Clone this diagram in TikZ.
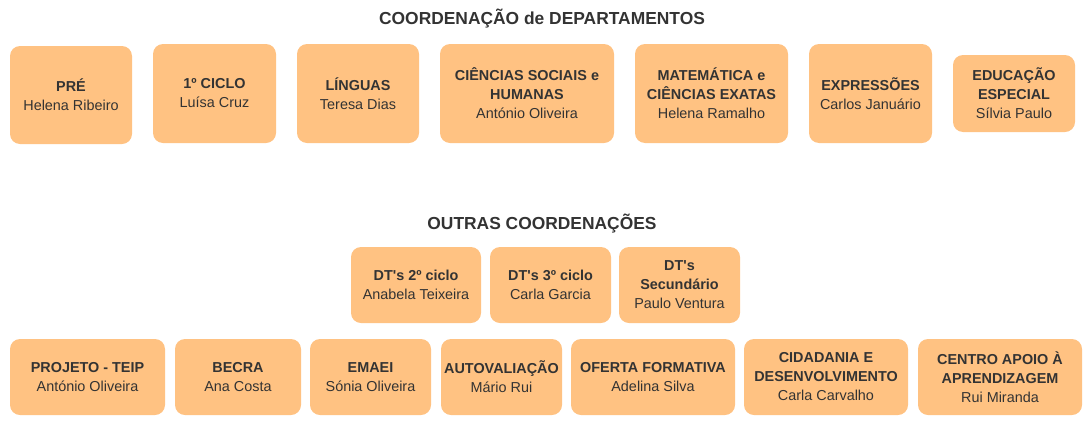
\documentclass[tikz,border=0pt]{standalone}
\usepackage{fontspec}
\setmainfont{Liberation Sans}
\usepackage{xcolor}
\usepackage{tikz}
\usetikzlibrary{positioning}
\definecolor{boxOrange}{HTML}{FFC282}
\definecolor{textGrey}{HTML}{333333}

\begin{document}
\begin{tikzpicture}[
    x=1pt, y=-1pt,
    coord/.style={fill=boxOrange, rounded corners=10pt, inner sep=1pt, align=center, text=textGrey, font=\fontsize{14.4}{19}\selectfont},
    heading/.style={text=textGrey, font=\fontsize{17.4}{21}\selectfont\bfseries},
]
    \useasboundingbox (0,0) rectangle (1091,426);

    % Departamentos
    \node[heading] (titledep) at (542,19) {COORDENAÇÃO de DEPARTAMENTOS};
    \node[coord, minimum width=122pt, minimum height=98pt] (pre) at (71,95) {\textbf{PRÉ}\\Helena Ribeiro};
    \node[coord, minimum width=123pt, minimum height=99pt] (ciclo1) at (214.5,93.5) {\textbf{1º CICLO}\\Luísa Cruz};
    \node[coord, minimum width=122pt, minimum height=99pt] (linguas) at (358,93.5) {\textbf{LÍNGUAS}\\Teresa Dias};
    \node[coord, minimum width=174pt, minimum height=99pt] (csh) at (527,93.5) {\textbf{CIÊNCIAS SOCIAIS e}\\\textbf{HUMANAS}\\António Oliveira};
    \node[coord, minimum width=153pt, minimum height=99pt] (mce) at (711.5,93.5) {\textbf{MATEMÁTICA e}\\\textbf{CIÊNCIAS EXATAS}\\Helena Ramalho};
    \node[coord, minimum width=123pt, minimum height=99pt] (expressoes) at (870.5,93.5) {\textbf{EXPRESSÕES}\\Carlos Januário};
    \node[coord, minimum width=122pt, minimum height=77pt] (edesp) at (1014,93.5) {\textbf{EDUCAÇÃO}\\\textbf{ESPECIAL}\\Sílvia Paulo};

    % Outras coordenacoes
    \node[heading] (titleout) at (542,224) {OUTRAS COORDENAÇÕES};
    \node[coord, minimum width=130pt, minimum height=76pt] (dt2) at (416,285) {\textbf{DT\textquotesingle s 2º ciclo}\\Anabela Teixeira};
    \node[coord, minimum width=121pt, minimum height=76pt] (dt3) at (550.5,285) {\textbf{DT\textquotesingle s 3º ciclo}\\Carla Garcia};
    \node[coord, minimum width=121pt, minimum height=76pt] (dtsec) at (679.5,285) {\textbf{DT\textquotesingle s}\\\textbf{Secundário}\\Paulo Ventura};

    \node[coord, minimum width=155pt, minimum height=76pt] (teip) at (87.5,377) {\textbf{PROJETO - TEIP}\\António Oliveira};
    \node[coord, minimum width=126pt, minimum height=76pt] (becra) at (238,377) {\textbf{BECRA}\\Ana Costa};
    \node[coord, minimum width=121pt, minimum height=76pt] (emaei) at (370.5,377) {\textbf{EMAEI}\\Sónia Oliveira};
    \node[coord, minimum width=121pt, minimum height=76pt, inner sep=0pt] (autoaval) at (501.5,377) {\textbf{AUTOVALIAÇÃO}\\Mário Rui};
    \node[coord, minimum width=164pt, minimum height=76pt] (oferta) at (653,377) {\textbf{OFERTA FORMATIVA}\\Adelina Silva};
    \node[coord, minimum width=164pt, minimum height=76pt] (cidadania) at (826,377) {\textbf{CIDADANIA E}\\\textbf{DESENVOLVIMENTO}\\Carla Carvalho};
    \node[coord, minimum width=164pt, minimum height=76pt] (cap) at (1000,377) {\textbf{CENTRO APOIO À}\\\textbf{APRENDIZAGEM}\\Rui Miranda};
\end{tikzpicture}
\end{document}
